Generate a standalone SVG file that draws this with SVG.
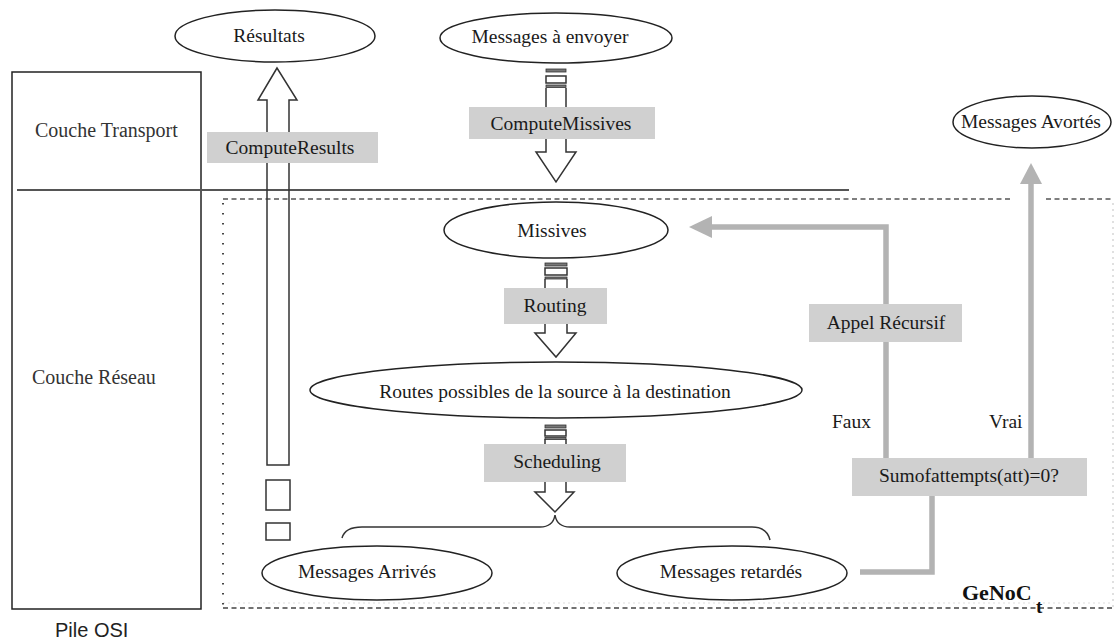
<svg xmlns="http://www.w3.org/2000/svg" width="1116" height="639" viewBox="0 0 1116 639">
  <style>
    .t { font-family: "Liberation Serif", "Times New Roman", serif; font-size: 19.5px; fill: #1a1a1a; }
    .mid { text-anchor: middle; }
    .layer { font-family: "Liberation Serif", serif; font-size: 20px; fill: #333; }
    .osi { font-family: "Liberation Sans", Arial, sans-serif; font-size: 20px; fill: #222; }
    .ell { fill: #fff; stroke: #222; stroke-width: 1.5; }
    .lbl { fill: #d0d0d0; stroke: none; }
    .hollow { fill: none; stroke: #333; stroke-width: 1.5; stroke-linejoin: miter; }
    .bar { fill: #777; stroke: #333; stroke-width: 0.8; }
    .flow { fill: none; stroke: #b3b3b3; stroke-width: 5.5; stroke-linejoin: miter; }
    .head { fill: #b3b3b3; stroke: none; }
    .thin { fill: none; stroke: #333; stroke-width: 1.5; }
  </style>

  <rect width="1116" height="639" fill="#fff"/>

  <!-- OSI stack -->
  <g id="osi-stack">
    <rect x="12" y="72" width="189" height="537" fill="none" stroke="#222" stroke-width="1.5"/>
    <line x1="17" y1="190" x2="849" y2="190" stroke="#555" stroke-width="2"/>
    <text class="layer" x="35" y="137">Couche Transport</text>
    <text class="layer" x="32" y="384">Couche Réseau</text>
    <text class="osi" x="55" y="637">Pile OSI</text>
  </g>

  <!-- GeNoC boundary -->
  <g id="genoc-frame">
    <path d="M223,199 H1012 M1046,199 H1113" stroke="#555" stroke-width="1.6" stroke-dasharray="5,3.5" fill="none"/>
    <line x1="223" y1="608" x2="1113" y2="608" stroke="#444" stroke-width="1.6" stroke-dasharray="5,3.5"/>
    <line x1="223" y1="603" x2="1113" y2="603" stroke="#ddd" stroke-width="1" stroke-dasharray="2,3"/>
    <line x1="223" y1="203" x2="223" y2="608" stroke="#444" stroke-width="2" stroke-dasharray="1.5,8.5"/>
    <line x1="1113" y1="203" x2="1113" y2="608" stroke="#ccc" stroke-width="1.2" stroke-dasharray="2,4"/>
    <text x="962" y="600" font-family="Liberation Serif, serif" font-weight="bold" font-size="22px" fill="#111">GeNoC</text>
    <text x="1036" y="613" font-family="Liberation Serif, serif" font-weight="bold" font-size="19px" fill="#111">t</text>
  </g>

  <!-- connectors -->
  <g id="connectors">
    <!-- ComputeResults: hollow up arrow -->
    <path class="hollow" d="M277,68 L258,100 H267 V465 H289 V100 H297 Z"/>
    <rect class="hollow" x="266" y="480" width="24" height="30"/>
    <rect class="hollow" x="266" y="523" width="24" height="17"/>

    <!-- ComputeMissives: striped down arrow -->
    <rect class="bar" x="546" y="69" width="20" height="3"/>
    <rect class="hollow" x="546" y="76" width="20" height="7"/>
    <rect class="bar" x="546" y="85" width="20" height="2.5"/>
    <path class="hollow" d="M546,88 V108 M566,88 V108"/>
    <path class="hollow" d="M546,138 V152 H536 L556,182 L576,152 H566 V138"/>

    <!-- Routing: striped down arrow -->
    <rect class="bar" x="545" y="263" width="22" height="3"/>
    <rect class="hollow" x="545" y="268" width="22" height="7"/>
    <rect class="bar" x="545" y="277" width="22" height="2"/>
    <path class="hollow" d="M545,279 V289 M567,279 V289"/>
    <path class="hollow" d="M545,323 V333 H535 L556,357 L576,333 H567 V323"/>

    <!-- Scheduling: striped down arrow -->
    <rect class="bar" x="545" y="425" width="21" height="3"/>
    <rect class="hollow" x="545" y="430" width="21" height="6"/>
    <rect class="bar" x="545" y="437.5" width="21" height="2"/>
    <path class="hollow" d="M545,439 V445 M566,439 V445"/>
    <path class="hollow" d="M545,481 V492 H535 L555,512 L574,492 H566 V481"/>

    <!-- split brace -->
    <path class="thin" d="M342,538 Q345,527 362,527 H540 Q553,527 555,515 Q557,527 570,527 H752 Q767,527 770,540"/>

    <!-- Messages retardés to the test -->
    <path class="flow" d="M860,572 H932 V496"/>
    <!-- Faux: recursive call back to Missives -->
    <path class="flow" d="M886,458 V227 H706"/>
    <polygon class="head" points="689,227 712,216 712,238"/>
    <!-- Vrai: to aborted messages -->
    <path class="flow" d="M1031,458 V180"/>
    <polygon class="head" points="1031,163 1020,184 1042,184"/>
  </g>

  <!-- labels on the arrows -->
  <g id="compute-results">
    <rect class="lbl" x="207" y="132" width="171" height="31"/>
    <text class="t mid" x="290" y="154">ComputeResults</text>
  </g>
  <g id="compute-missives">
    <rect class="lbl" x="469" y="107" width="186" height="32"/>
    <text class="t mid" x="561" y="130">ComputeMissives</text>
  </g>
  <g id="routing">
    <rect class="lbl" x="504" y="288" width="103" height="36"/>
    <text class="t mid" x="555" y="312">Routing</text>
  </g>
  <g id="scheduling">
    <rect class="lbl" x="484" y="444" width="142" height="38"/>
    <text class="t mid" x="557" y="468">Scheduling</text>
  </g>
  <g id="appel-recursif">
    <rect class="lbl" x="809" y="304" width="153" height="38"/>
    <text class="t mid" x="886" y="329">Appel Récursif</text>
  </g>
  <g id="sumofattempts">
    <rect class="lbl" x="852" y="458" width="235" height="38"/>
    <text class="t mid" x="969" y="482">Sumofattempts(att)=0?</text>
  </g>
  <g id="faux-vrai">
    <text class="t" x="871" y="428" text-anchor="end">Faux</text>
    <text class="t" x="989" y="428">Vrai</text>
  </g>

  <!-- message sets -->
  <g id="resultats">
    <ellipse class="ell" cx="275" cy="36" rx="100" ry="26"/>
    <text class="t mid" x="269" y="42">Résultats</text>
  </g>
  <g id="messages-a-envoyer">
    <ellipse class="ell" cx="556" cy="38" rx="116" ry="25"/>
    <text class="t mid" x="550" y="43">Messages à envoyer</text>
  </g>
  <g id="messages-avortes">
    <ellipse class="ell" cx="1032" cy="122" rx="79" ry="26"/>
    <text class="t mid" x="1031" y="128">Messages Avortés</text>
  </g>
  <g id="missives">
    <ellipse class="ell" cx="556" cy="230" rx="112" ry="28"/>
    <text class="t mid" x="552" y="237">Missives</text>
  </g>
  <g id="routes-possibles">
    <ellipse class="ell" cx="556" cy="390" rx="246" ry="28"/>
    <text class="t mid" x="555" y="398">Routes possibles de la source à la destination</text>
  </g>
  <g id="messages-arrives">
    <ellipse class="ell" cx="377" cy="573" rx="115" ry="27" stroke-width="2.5"/>
    <text class="t mid" x="367" y="578">Messages Arrivés</text>
  </g>
  <g id="messages-retardes">
    <ellipse class="ell" cx="732" cy="573" rx="115" ry="27"/>
    <text class="t mid" x="731" y="578">Messages retardés</text>
  </g>
</svg>
